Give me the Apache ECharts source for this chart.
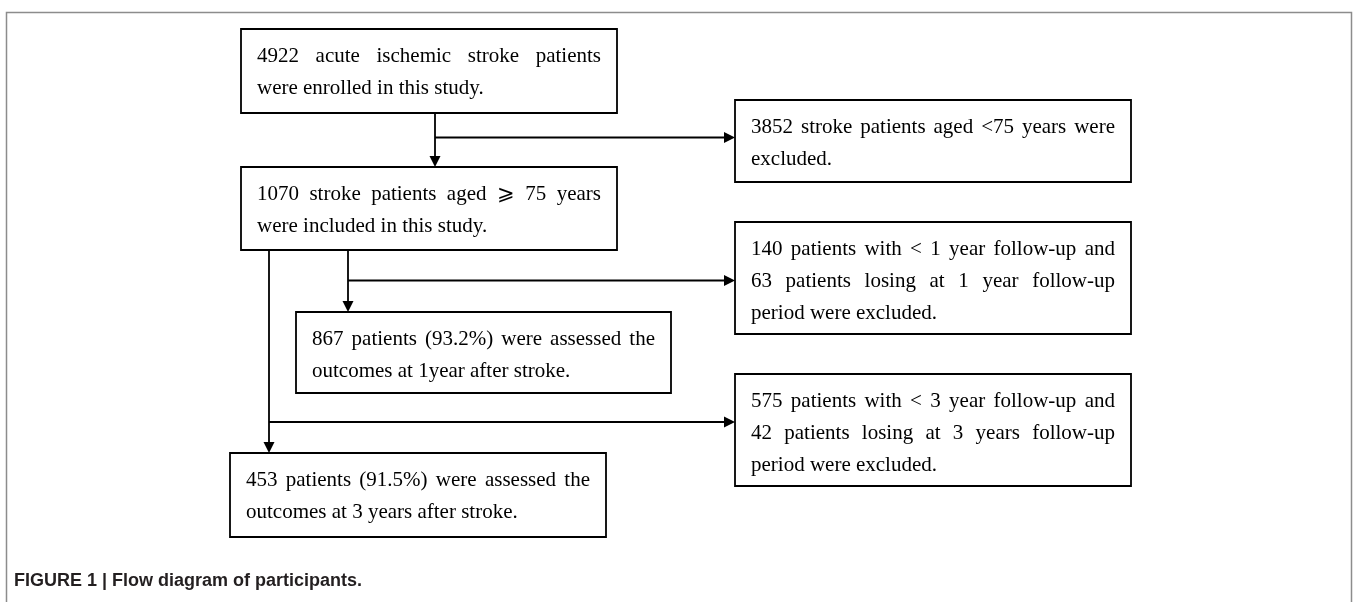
<!DOCTYPE html>
<html><head><meta charset="utf-8">
<script src="https://cdn.jsdelivr.net/npm/echarts@6/dist/echarts.min.js"></script>
<style>html,body{margin:0;padding:0;background:#fff}#c{width:1357px;height:602px}</style>
</head><body><div id="c"></div>
<script>
// ---- content (text of each box) ----
const enrolledLines = ["4922 acute ischemic stroke patients", "were enrolled in this study."];
const includedLines = ["1070 stroke patients aged \u2A7E 75 years", "were included in this study."];
const excludedAgeLines = ["3852 stroke patients aged <75 years were", "excluded."];
const excluded1yLines = ["140 patients with < 1 year follow-up and", "63 patients losing at 1 year follow-up", "period were excluded."];
const assessed1yLines = ["867 patients (93.2%) were assessed the", "outcomes at 1year after stroke."];
const excluded3yLines = ["575 patients with < 3 year follow-up and", "42 patients losing at 3 years follow-up", "period were excluded."];
const assessed3yLines = ["453 patients (91.5%) were assessed the", "outcomes at 3 years after stroke."];
const captionText = "FIGURE 1 | Flow diagram of participants.";

// ---- layout (diagram coordinates) ----
const boxTexts = [enrolledLines, includedLines, excludedAgeLines, excluded1yLines, assessed1yLines, excluded3yLines, assessed3yLines];
const boxLayout = [
  [241, 29, 617, 113],
  [241, 167, 617, 250],
  [735, 100, 1131, 182],
  [735, 222, 1131, 334],
  [296, 312, 671, 393],
  [735, 374, 1131, 486],
  [230, 453, 606, 537]
];
const connectors = [
  [[435, 113], [435, 167]],
  [[435, 137.5], [735, 137.5]],
  [[348, 250], [348, 312]],
  [[348, 280.5], [735, 280.5]],
  [[269, 250], [269, 453]],
  [[269, 422], [735, 422]]
];

const FONT_SIZE = 21;
const FONT_FAMILY = '"Liberation Serif", "Times New Roman", "DejaVu Serif", serif';
const FONT = FONT_SIZE + 'px ' + FONT_FAMILY;
const PAD_X = 16, FIRST_LINE = 27, LINE_H = 32;
const mctx = document.createElement('canvas').getContext('2d');
mctx.font = FONT;
const measure = s => mctx.measureText(s).width;

function wordItems(lines, availW) {
  const out = [];
  lines.forEach((line, li) => {
    const last = li === lines.length - 1;
    const words = line.split(' ');
    if (last || words.length < 2) {
      out.push({text: line, dx: 0, li});
    } else {
      const widths = words.map(measure);
      const sum = widths.reduce((a, b) => a + b, 0);
      const gap = (availW - sum) / (words.length - 1);
      let x = 0;
      words.forEach((w, k) => { out.push({text: w, dx: x, li}); x += widths[k] + gap; });
    }
  });
  return out;
}

const chart = echarts.init(document.getElementById('c'), null, {renderer: 'canvas'});
chart.setOption({
  animation: false,
  backgroundColor: '#ffffff',
  grid: {left: 0, right: 0, top: 0, bottom: 0},
  xAxis: {type: 'value', min: 0, max: 1357, show: false},
  yAxis: {type: 'value', min: 0, max: 602, inverse: true, show: false},
  title: {
    text: captionText, left: 14, top: 572, padding: 0,
    textStyle: {fontFamily: '"Liberation Sans", Arial, sans-serif', fontWeight: 'bold', fontSize: 18, color: '#231f20'}
  },
  graphic: [{
    type: 'rect', z: -10,
    shape: {x: 6.5, y: 12.5, width: 1345, height: 700},
    style: {fill: 'none', stroke: '#8c8c8c', lineWidth: 1.5}
  }],
  series: [
    {
      type: 'custom', coordinateSystem: 'cartesian2d', clip: false,
      encode: {x: [0, 2], y: [1, 3]},
      data: boxLayout.map((b, i) => [b[0], b[1], b[2], b[3], i]),
      renderItem(params, api) {
        const i = api.value(4);
        const p0 = api.coord([api.value(0), api.value(1)]);
        const p1 = api.coord([api.value(2), api.value(3)]);
        const w = p1[0] - p0[0], h = p1[1] - p0[1];
        const children = [{
          type: 'rect',
          shape: {x: p0[0], y: p0[1], width: w, height: h},
          style: {fill: '#fff', stroke: '#000', lineWidth: 1.8}
        }];
        wordItems(boxTexts[i], w - 2 * PAD_X).forEach(it => {
          children.push({
            type: 'text',
            style: {
              text: it.text, x: p0[0] + PAD_X + it.dx, y: p0[1] + FIRST_LINE + it.li * LINE_H,
              font: FONT, fill: '#000', textAlign: 'left', textVerticalAlign: 'middle',
              align: 'left', verticalAlign: 'middle'
            }
          });
        });
        return {type: 'group', children};
      }
    },
    {
      type: 'custom', coordinateSystem: 'cartesian2d', clip: false,
      encode: {x: [0, 2], y: [1, 3]},
      data: connectors.map(c => [c[0][0], c[0][1], c[1][0], c[1][1]]),
      renderItem(params, api) {
        const a = api.coord([api.value(0), api.value(1)]);
        const b = api.coord([api.value(2), api.value(3)]);
        const L = 11, HW = 5.5;
        const dx = b[0] - a[0], dy = b[1] - a[1];
        const len = Math.hypot(dx, dy);
        const ux = dx / len, uy = dy / len;
        const base = [b[0] - ux * L, b[1] - uy * L];
        return {type: 'group', children: [
          {type: 'line', shape: {x1: a[0], y1: a[1], x2: base[0], y2: base[1]}, style: {stroke: '#000', lineWidth: 1.8}},
          {type: 'polygon', shape: {points: [b, [base[0] - uy * HW, base[1] + ux * HW], [base[0] + uy * HW, base[1] - ux * HW]]}, style: {fill: '#000'}}
        ]};
      }
    }
  ]
});
</script></body></html>
